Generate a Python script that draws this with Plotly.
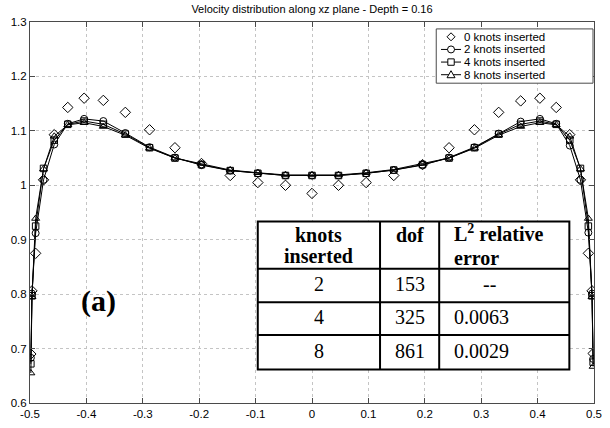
import plotly.graph_objects as go

# ---------------- data ----------------
x_pos = [-0.4985, -0.4965, -0.490, -0.476, -0.457, -0.433, -0.404, -0.370, -0.331, -0.288,
         -0.243, -0.196, -0.145, -0.096, -0.047, 0.0, 0.047, 0.096, 0.145, 0.196,
         0.243, 0.288, 0.331, 0.370, 0.404, 0.433, 0.457, 0.476, 0.490, 0.4965, 0.4985]

vel_0knots = [0.690, 0.806, 0.875, 1.010, 1.093, 1.143, 1.160, 1.156, 1.134, 1.102,
              1.069, 1.040, 1.018, 1.005, 1.000, 0.985, 1.000, 1.005, 1.018, 1.038,
              1.069, 1.102, 1.134, 1.155, 1.160, 1.143, 1.093, 1.010, 0.875, 0.806, 0.691]

vel_2knots = [0.683, 0.801, 0.912, 1.010, 1.075, 1.113, 1.122, 1.118, 1.096, 1.070,
              1.051, 1.037, 1.027, 1.022, 1.018, 1.018, 1.018, 1.022, 1.028, 1.037,
              1.051, 1.070, 1.095, 1.117, 1.122, 1.113, 1.073, 1.010, 0.913, 0.801, 0.681]

vel_4knots = [0.672, 0.797, 0.925, 1.031, 1.083, 1.112, 1.118, 1.112, 1.094, 1.069,
              1.050, 1.038, 1.027, 1.022, 1.018, 1.018, 1.018, 1.022, 1.028, 1.038,
              1.050, 1.069, 1.094, 1.112, 1.118, 1.112, 1.083, 1.031, 0.925, 0.797, 0.675]

vel_8knots = [0.655, 0.795, 0.939, 1.030, 1.090, 1.111, 1.115, 1.108, 1.092, 1.068,
              1.050, 1.040, 1.028, 1.023, 1.019, 1.019, 1.019, 1.023, 1.029, 1.040,
              1.050, 1.068, 1.092, 1.108, 1.115, 1.111, 1.090, 1.030, 0.939, 0.795, 0.667]

series_names = ["0 knots inserted", "2 knots inserted", "4 knots inserted", "8 knots inserted"]

x_ticks = [-0.5, -0.4, -0.3, -0.2, -0.1, 0.0, 0.1, 0.2, 0.3, 0.4, 0.5]
x_tick_labels = ["-0.5", "-0.4", "-0.3", "-0.2", "-0.1", "0", "0.1", "0.2", "0.3", "0.4", "0.5"]
y_ticks = [0.6, 0.7, 0.8, 0.9, 1.0, 1.1, 1.2, 1.3]
y_tick_labels = ["0.6", "0.7", "0.8", "0.9", "1", "1.1", "1.2", "1.3"]

table_knots = ["2", "4", "8"]
table_dof = ["153", "325", "861"]
table_err = ["--", "0.0063", "0.0029"]

title_text = "Velocity distribution along xz plane - Depth = 0.16"
panel_label = "(a)"

# ---------------- layout helpers ----------------
W, H = 610, 428
ML, MR, MT, MB = 30, 8, 22, 20
PW, PH = W - ML - MR, H - MT - MB


def fx(p):
    return (p - ML) / PW


def fy(p):
    return 1 - (p - MT) / PH


SANS = "Liberation Sans, Arial, sans-serif"
SERIF = "Liberation Serif, Times New Roman, serif"
INK = "#000000"
AXIS = "#4a4a4a"

fig = go.Figure()

styles = [
    dict(mode="markers", symbol="diamond-open", size=8),
    dict(mode="lines+markers", symbol="circle-open", size=7),
    dict(mode="lines+markers", symbol="square-open", size=6.5),
    dict(mode="lines+markers", symbol="triangle-up-open", size=7),
]
for name, yv, st in zip(series_names, [vel_0knots, vel_2knots, vel_4knots, vel_8knots], styles):
    fig.add_trace(go.Scatter(
        x=x_pos, y=yv, name=name, mode=st["mode"],
        line=dict(color=INK, width=1),
        marker=dict(symbol=st["symbol"], size=st["size"], color=INK, line=dict(color=INK, width=1)),
        showlegend=False,
    ))

shapes = []
annotations = []

# ---------------- manual legend ----------------
leg_left, leg_top, leg_right, leg_bottom = 442, 29, 601, 84
shapes.append(dict(type="rect", xref="paper", yref="paper",
                   x0=fx(leg_left), x1=fx(leg_right), y0=fy(leg_bottom), y1=fy(leg_top),
                   line=dict(color=AXIS, width=1), fillcolor="white", layer="above"))
rows_y = [37.0, 49.8, 62.6, 75.4]
sym_x = 457
for i, (name, ry) in enumerate(zip(series_names, rows_y)):
    ax, ay = fx(sym_x), fy(ry)
    if i > 0:
        shapes.append(dict(type="line", xref="paper", yref="paper", xsizemode="pixel", ysizemode="pixel",
                           xanchor=ax, yanchor=ay, x0=-10, x1=10, y0=0, y1=0,
                           line=dict(color=INK, width=1), layer="above"))
    common = dict(xref="paper", yref="paper", xsizemode="pixel", ysizemode="pixel",
                  xanchor=ax, yanchor=ay, line=dict(color=INK, width=1), fillcolor="white", layer="above")
    if i == 0:
        shapes.append(dict(type="path", path="M 0,-4 L 4,0 L 0,4 L -4,0 Z", **common))
    elif i == 1:
        shapes.append(dict(type="circle", x0=-3.5, x1=3.5, y0=-3.5, y1=3.5, **common))
    elif i == 2:
        shapes.append(dict(type="rect", x0=-3.2, x1=3.2, y0=-3.2, y1=3.2, **common))
    else:
        shapes.append(dict(type="path", path="M -4,-3 L 4,-3 L 0,4 Z", **common))
    annotations.append(dict(text=name, xref="paper", yref="paper", x=fx(468), y=ay,
                            xanchor="left", yanchor="middle", showarrow=False,
                            font=dict(family=SANS, size=11.5, color=INK)))

# ---------------- table ----------------
t_left, t_right, t_top, t_bottom = 261, 577, 224, 374
row_lines = [272, 306, 339]
col_lines = [385, 445]
shapes.append(dict(type="rect", xref="paper", yref="paper",
                   x0=fx(t_left), x1=fx(t_right), y0=fy(t_bottom), y1=fy(t_top),
                   line=dict(color=INK, width=2), fillcolor="white", layer="above"))
for ry in row_lines:
    shapes.append(dict(type="line", xref="paper", yref="paper", x0=fx(t_left), x1=fx(t_right),
                       y0=fy(ry), y1=fy(ry), line=dict(color=INK, width=2), layer="above"))
for cx in col_lines:
    shapes.append(dict(type="line", xref="paper", yref="paper", x0=fx(cx), x1=fx(cx),
                       y0=fy(t_top), y1=fy(t_bottom), line=dict(color=INK, width=2), layer="above"))


def tab_text(txt, x, y, anchor="center", bold=False, size=20):
    annotations.append(dict(text=("<b>%s</b>" % txt) if bold else txt, xref="paper", yref="paper",
                            x=fx(x), y=fy(y), xanchor=anchor, yanchor="middle", showarrow=False,
                            font=dict(family=SERIF, size=size, color=INK)))


tab_text("knots", 323, 238, bold=True)
tab_text("inserted", 323, 259, bold=True)
tab_text("dof", 415, 238, bold=True)
tab_text("L<sup>2</sup> relative", 458, 236, anchor="left", bold=True)
tab_text("error", 458, 261, anchor="left", bold=True)

row_centers = [287, 321, 355]
for k, d, e, ry in zip(table_knots, table_dof, table_err, row_centers):
    tab_text(k, 323, ry)
    tab_text(d, 415, ry)
    if e == "--":
        tab_text(e, 487, ry, anchor="left")
    else:
        tab_text(e, 458, ry, anchor="left")

annotations.append(dict(text="<b>%s</b>" % panel_label, xref="paper", yref="paper",
                        x=fx(99), y=fy(305), xanchor="center", yanchor="middle", showarrow=False,
                        font=dict(family=SERIF, size=30, color=INK)))

axis_common = dict(showline=True, linecolor=AXIS, linewidth=1, mirror="ticks",
                   ticks="inside", ticklen=5, tickcolor=AXIS, tickwidth=1,
                   showgrid=True, gridcolor="#c4c4c4", griddash="dot", gridwidth=1,
                   zeroline=False, tickfont=dict(family=SANS, size=11.5, color=INK))

fig.update_layout(
    width=W, height=H,
    margin=dict(l=ML, r=MR, t=MT, b=MB, pad=0),
    paper_bgcolor="white", plot_bgcolor="white",
    title=dict(text=title_text, x=fx(316), xanchor="center", y=1 - 9 / H, yanchor="middle",
               yref="container", xref="paper",
               font=dict(family=SANS, size=11, color=INK)),
    xaxis=dict(range=[-0.5, 0.5], tickvals=x_ticks, ticktext=x_tick_labels, **axis_common),
    yaxis=dict(range=[0.6, 1.3], tickvals=y_ticks, ticktext=y_tick_labels, **axis_common),
    shapes=shapes, annotations=annotations, showlegend=False,
)

fig.write_html("out.html")
